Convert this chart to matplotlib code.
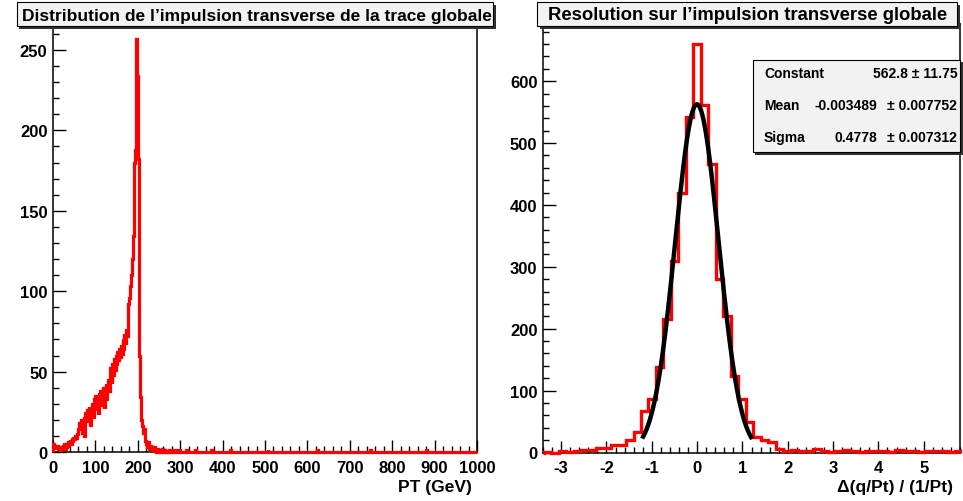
import numpy as np
import matplotlib
matplotlib.use("Agg")
import matplotlib.pyplot as plt
from matplotlib.patches import Rectangle

plt.rcParams['font.family'] = ['Liberation Sans', 'DejaVu Sans']
plt.rcParams['font.weight'] = 'bold'
plt.rcParams['axes.unicode_minus'] = False

W, H = 963, 502

# ---- left pad : pT of the global track, 2 GeV bins, 0-300 GeV
pt_bin_width = 2.0
pt_counts = [
    5, 3, 4, 2, 3, 4, 2, 3, 1, 4,
    3, 2, 4, 5, 2, 3, 5, 4, 6, 5,
    7, 5, 8, 6, 9, 8, 10, 9, 11, 12,
    14, 18, 15, 20, 12, 19, 22, 10, 24, 20,
    26, 19, 28, 23, 17, 25, 30, 22, 33, 28,
    35, 27, 31, 24, 36, 30, 38, 29, 34, 40,
    28, 36, 42, 33, 40, 45, 38, 52, 47, 43,
    55, 48, 58, 51, 60, 54, 62, 57, 64, 59,
    66, 61, 70, 64, 73, 68, 76, 72, 84, 92,
    96, 103, 110, 120, 134, 155, 180, 188, 257, 234,
    182, 105, 60, 34, 20, 16, 12, 14, 9, 7,
    5, 3, 6, 2, 4, 1, 3, 2, 1, 3,
    2, 1, 0, 2, 1, 0, 1, 0, 1, 2,
    0, 1, 0, 0, 1, 0, 0, 1, 0, 0,
    1, 0, 0, 0, 1, 0, 0, 0, 0, 1,
]
pt_tail_hits = [314, 336, 372, 418, 506, 622, 748, 880]   # single entries above 300 GeV
pt_max = 1000.0

# ---- right pad : resolution on 1/pT (first bin centred at res_first_bin * width)
res_bin_width = 0.165
res_first_bin = -21
res_counts = [
    0, 1, 0, 2, 1, 3, 4, 4, 8, 8, 12, 12, 21, 33, 67, 87, 138, 215, 309, 420, 542,
    660,
    561, 466, 280, 221, 124, 87, 50, 25, 20, 17, 6, 3, 4, 2, 3, 5, 2, 1, 3, 4,
    2, 1, 2, 3, 2, 1, 4, 2, 3, 1, 2, 3, 2, 1, 2,
]
fit_names = ['Constant', 'Mean', 'Sigma']
fit_values = [562.8, -0.003489, 0.4778]
fit_errors = [11.75, 0.007752, 0.007312]
fit_value_txt = ['562.8', '-0.003489', '0.4778']
fit_error_txt = ['11.75', '0.007752', '0.007312']

RED = '#ff0000'


def px_axes(fig, x0, y0, x1, y1):
    # pixel box (top-left origin) -> figure fraction
    return fig.add_axes([x0 / W, 1 - y1 / H, (x1 - x0) / W, (y1 - y0) / H])


def root_style(ax):
    for s in ax.spines.values():
        s.set_linewidth(1.1)
        s.set_color('black')
    ax.tick_params(which='major', direction='in', length=9, width=1.0,
                   labelsize=12, top=False, right=False)
    ax.tick_params(which='minor', direction='in', length=4.5, width=1.0,
                   top=False, right=False)
    ax.tick_params(axis='x', pad=5.5)
    ax.tick_params(axis='y', pad=4)


def pave(ov, x0, y0, x1, y1):
    ov.add_patch(Rectangle((x0 + 2.5, y0 + 2.5), x1 - x0, y1 - y0,
                           facecolor='#303030', edgecolor='none', zorder=2))
    ov.add_patch(Rectangle((x0, y0), x1 - x0, y1 - y0, facecolor='#f2f2f2',
                           edgecolor='black', linewidth=0.8, zorder=3))


fig = plt.figure(figsize=(W / 100, H / 100), dpi=100)
fig.patch.set_facecolor('white')

# left
axL = px_axes(fig, 53, 19, 477, 453)
nb = int(pt_max / pt_bin_width)
counts = np.zeros(nb)
counts[:len(pt_counts)] = pt_counts
for g in pt_tail_hits:
    counts[int(g // pt_bin_width)] += 1
edges = np.arange(nb + 1) * pt_bin_width
axL.stairs(counts, edges, color=RED, linewidth=2.3, baseline=0, clip_on=False, zorder=3)
axL.set_xlim(0, pt_max)
axL.set_ylim(0, 1.05 * max(pt_counts))
axL.set_xticks(np.arange(0, 1001, 100))
axL.set_xticks(np.arange(0, 1001, 20), minor=True)
axL.set_yticks(np.arange(0, 251, 50))
axL.set_yticks(np.arange(0, 261, 10), minor=True)
root_style(axL)

# right
axR = px_axes(fig, 543, 24.7, 960, 453.5)
xlo, xhi = -3.4, 5.8
k = np.arange(res_first_bin, res_first_bin + len(res_counts) + 1)
redges = np.clip((k - 0.5) * res_bin_width, xlo, xhi)
axR.stairs(res_counts, redges, color=RED, linewidth=2.4, baseline=0, clip_on=False, zorder=3)
xf = np.linspace(-1.19, 1.19, 200)
yf = fit_values[0] * np.exp(-0.5 * ((xf - fit_values[1]) / fit_values[2]) ** 2)
axR.plot(xf, yf, color='black', linewidth=3.2, zorder=4)
axR.set_xlim(xlo, xhi)
axR.set_ylim(0, 1.05 * max(res_counts))
axR.set_xticks(np.arange(-3, 6, 1))
axR.set_xticks(np.arange(-3.4, 5.81, 0.2), minor=True)
axR.set_yticks(np.arange(0, 601, 100))
axR.set_yticks(np.arange(0, 681, 20), minor=True)
root_style(axR)

# overlay in pixel coordinates for the titles, stats box and axis titles
ov = fig.add_axes([0, 0, 1, 1])
ov.set_xlim(0, W)
ov.set_ylim(H, 0)
ov.axis('off')

pave(ov, 16.7, 3.3, 493, 27.3)
ov.text(257, 16, 'Distribution de l\u2019impulsion transverse de la trace globale',
        ha='center', va='center', fontsize=12.5, zorder=5)
pave(ov, 537, 3.3, 957, 27.3)
ov.text(748, 16, 'Resolution sur l\u2019impulsion transverse globale',
        ha='center', va='center', fontsize=13.3, zorder=5)

pave(ov, 752.7, 60.7, 960, 153.3)
rows_y = [74, 106, 138]
for name, v, e, y in zip(fit_names, fit_value_txt, fit_error_txt, rows_y):
    ov.text(764, y, name, ha='left', va='center', fontsize=10, zorder=5)
    if name == 'Constant':
        ov.text(958, y, v + ' \u00b1 ' + e, ha='right', va='center', fontsize=10, zorder=5)
    else:
        ov.text(877, y, v, ha='right', va='center', fontsize=10, zorder=5)
        ov.text(887, y, '\u00b1 ' + e, ha='left', va='center', fontsize=10, zorder=5)

ov.text(472, 488, 'PT (GeV)', ha='right', va='center', fontsize=12.5)
ov.text(953, 488, '\u0394(q/Pt) / (1/Pt)', ha='right', va='center', fontsize=12.5)

fig.savefig('out.png', dpi=100)
